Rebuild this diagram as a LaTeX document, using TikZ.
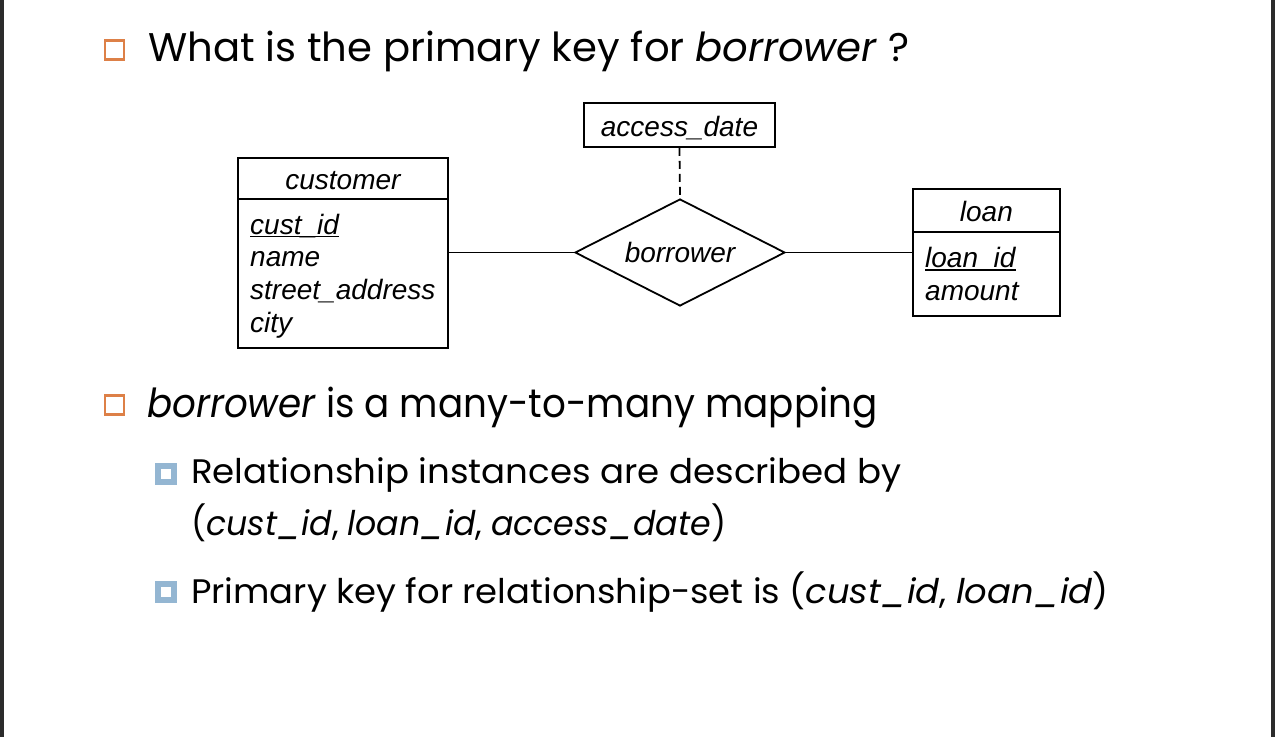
\documentclass[tikz,border=0pt]{standalone}
\usepackage{fontspec}
\setmainfont{Poppins}
\newfontfamily\arialf{Liberation Sans}
\usetikzlibrary{shapes.geometric}
\definecolor{bulorange}{RGB}{221,128,71}
\definecolor{bulblue}{RGB}{148,182,210}
\definecolor{edgegray}{RGB}{43,43,43}
\newcommand\ulin[1]{\setbox0\hbox{#1}\rlap{\rule[-3.2pt]{\wd0}{1.6pt}}\box0}
\begin{document}
\begin{tikzpicture}[x=1pt,y=-1pt,
  erfont/.style={font=\arialf\itshape\fontsize{28}{33}\selectfont},
  box/.style={draw, line width=1.8pt, inner sep=0pt, erfont, text height=24pt, text depth=1pt},
  attr/.style={inner sep=0pt, anchor=base west, erfont},
  rel/.style={draw, diamond, aspect=2, line width=1.8pt, inner sep=0pt, erfont, text height=20pt, text depth=1pt},
  conn/.style={line width=1.8pt},
  bigline/.style={inner sep=0pt, anchor=base west, font=\fontsize{40}{48}\selectfont},
  subline/.style={inner sep=0pt, anchor=base west, font=\fontsize{34}{40}\selectfont},
  obullet/.style={draw=bulorange, line width=2.5pt, minimum size=19pt, inner sep=0pt},
  bbullet/.style={draw=bulblue, fill=white, line width=6pt, minimum size=16pt, inner sep=0pt}]
\useasboundingbox (0,0) rectangle (1275,737);
\fill[white] (0,0) rectangle (1275,737);
\fill[edgegray] (0,0) rectangle (3.5,737);
\fill[edgegray] (1271,0) rectangle (1275,737);

% slide text
\node[obullet] (b1) at (114.5,50) {};
\node[bigline] (q1) at (148,61) {\scalebox{1.004}[1]{What is the primary key for \textit{borrower} ?}};
\node[obullet] (b2) at (114.5,405) {};
\node[bigline] (q2) at (147,417) {\scalebox{0.932}[1]{\textit{borrower} is a many-to-many mapping}};
\node[bbullet] (b3) at (166,473.5) {};
\node[subline] (q3) at (191,483) {\scalebox{1.047}[1]{Relationship instances are described by}};
\node[subline] (q4) at (191,535) {\scalebox{0.977}[1]{(\textit{cust\_id}, \textit{loan\_id}, \textit{access\_date})}};
\node[bbullet] (b4) at (166,592) {};
\node[subline] (q5) at (191,603) {\scalebox{1.04}[1]{Primary key for relationship-set is (\textit{cust\_id}, \textit{loan\_id})}};

% E-R diagram
\node[box, minimum width=210pt, minimum height=41pt, anchor=north west] (custH) at (237,157) {customer};
\node[box, minimum width=210pt, minimum height=149pt, anchor=north west] (custB) at (237,198) {};
\node[attr] (ca1) at (250,234) {\ulin{cust\_id}};
\node[attr] (ca2) at (250,266.7) {name};
\node[attr] (ca3) at (250,299.4) {street\_address};
\node[attr] (ca4) at (250,332) {city};

\node[box, minimum width=147pt, minimum height=43pt, anchor=north west] (loanH) at (912,188) {loan};
\node[box, minimum width=147pt, minimum height=84pt, anchor=north west] (loanB) at (912,231) {};
\node[attr] (la1) at (925,267.5) {\ulin{loan\_id}};
\node[attr] (la2) at (925,300) {amount};

\node[rel, minimum width=210pt, minimum height=107pt] (borrow) at (680,252.5) {borrower};
\node[box, minimum width=191pt, minimum height=44pt] (acc) at (679.5,125) {access\_date};

\draw[conn] (borrow.west) -- (borrow.west -| custB.east);
\draw[conn] (borrow.east) -- (borrow.east -| loanB.west);
\draw[conn, dash pattern=on 8pt off 5pt] (acc.south) -- (borrow.north);
\end{tikzpicture}
\end{document}
